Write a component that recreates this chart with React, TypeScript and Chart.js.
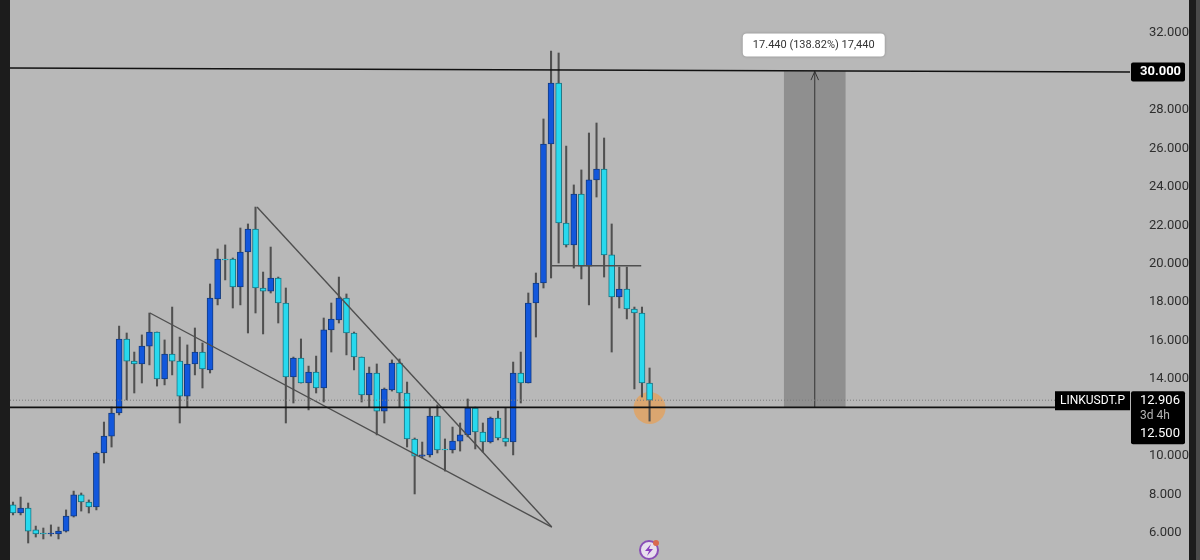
import React, { useEffect, useRef } from "react";
import { Chart, registerables } from "chart.js";

Chart.register(...registerables);

const candleIndex = Array.from({ length: 85 }, (_, i) => i);
const bodyTop = [7.46,7.30,7.30,6.16,6.00,6.00,6.10,6.88,7.98,7.98,7.61,10.16,11.04,12.24,16.09,16.09,14.94,15.72,16.45,16.45,15.31,15.31,14.94,14.79,15.41,15.41,18.22,20.25,20.25,20.25,20.61,21.81,21.81,18.74,19.26,19.26,17.96,15.10,15.10,14.37,14.37,16.56,17.13,18.22,18.22,16.40,15.15,14.32,14.32,13.49,14.84,14.84,13.28,10.89,10.06,12.08,12.08,10.37,10.78,11.10,12.50,12.50,11.25,11.98,11.98,10.94,14.32,14.32,17.96,19.00,26.23,29.40,29.40,22.12,23.63,23.63,24.36,24.93,24.93,20.46,18.69,18.69,17.65,17.44,13.80];
const bodyBottom = [7.04,7.04,6.10,5.95,5.95,5.95,5.95,6.10,6.88,7.61,7.35,7.35,10.16,11.04,12.24,14.94,14.79,14.79,15.72,14.01,14.01,14.94,13.12,13.12,14.79,14.53,14.48,18.17,20.20,18.79,18.79,20.61,18.74,18.58,18.58,17.96,14.11,14.11,13.80,13.80,13.54,13.54,16.56,17.08,16.40,15.15,13.18,13.18,12.34,12.34,13.44,13.28,10.89,10.00,10.00,10.06,10.32,10.32,10.32,10.78,11.10,11.25,10.73,10.73,10.94,10.73,10.73,13.80,13.80,17.96,19.00,26.23,22.12,20.98,20.98,19.88,19.88,24.36,20.46,18.27,18.27,17.65,17.44,13.80,12.906];
const wickHigh = [7.61,7.87,7.56,6.36,6.26,6.42,6.31,7.20,8.18,8.08,7.72,10.21,11.77,12.55,16.76,16.40,15.41,16.30,17.44,16.45,16.04,17.75,16.19,15.78,16.66,15.88,18.95,20.77,20.98,20.30,21.86,22.07,22.95,19.57,20.87,19.31,18.74,15.15,16.09,14.68,15.20,17.18,17.96,19.31,18.43,16.45,15.15,14.63,14.79,13.54,15.00,15.05,13.85,10.94,10.73,12.50,12.66,10.89,11.51,11.72,12.97,12.55,11.72,12.03,12.34,12.50,14.89,15.41,18.48,19.52,27.53,31.06,30.96,26.12,24.10,24.88,26.80,27.32,26.54,22.07,19.83,19.83,17.75,17.75,14.58];
const wickLow = [6.94,6.94,5.48,5.79,5.69,5.84,5.69,6.05,6.83,7.14,7.04,7.20,9.64,10.47,12.14,12.92,13.28,13.80,14.74,13.64,13.70,14.22,11.72,12.55,14.22,13.54,14.32,17.86,19.16,17.70,17.86,16.40,17.44,16.35,18.48,16.92,11.72,12.76,13.80,12.40,13.28,12.81,15.41,16.92,15.26,14.48,12.81,12.55,11.10,11.72,13.38,12.55,10.47,8.03,9.90,9.95,10.16,9.22,10.16,10.26,11.00,10.37,10.21,10.68,10.84,10.52,10.06,12.76,13.80,16.19,18.74,19.26,20.04,20.87,19.78,19.21,17.86,23.47,19.31,15.41,17.70,17.13,13.49,13.07,11.82];
const isBlue = [0,1,0,0,0,1,1,1,1,0,0,1,1,1,1,0,0,1,1,0,1,0,0,1,1,0,1,1,0,0,1,1,0,0,1,0,0,1,0,1,0,1,1,1,0,0,0,1,0,1,1,0,0,0,1,1,0,0,1,1,1,0,0,1,0,0,1,0,1,1,1,1,0,0,1,0,1,1,0,0,1,0,0,0,0];

const yTicks = [6, 8, 10, 14, 16, 18, 20, 22, 24, 26, 28, 32];
const topLineX = [-0.4, 147.4];
const topLineY = [30.18, 29.97];
const supportY = 12.53;
const lastPrice = 12.906;
const wedgeLowerX = [18.07, 71.1];
const wedgeLowerY = [17.44, 6.31];
const wedgeUpperX = [32.2, 71.1];
const wedgeUpperY = [22.95, 6.31];
const neckX = [71.1, 82.9];
const neckY = [19.9, 19.9];
const projectionX = 105.8;
const projectionRange = [12.53, 30.0];
const arrowHeadX = [105.3, 105.8, 106.3];
const arrowHeadY = [29.55, 30.0, 29.55];
const markerX = 84;
const markerY = 12.5;
const measureText = "17.440 (138.82%) 17,440";
const symbolText = "LINKUSDT.P";
const countdownText = "3d 4h";

const BLUE = "#1257dc";
const BLUE_EDGE = "#123b80";
const CYAN = "#27d9ee";
const CYAN_EDGE = "#1a7483";
const FONT = "Roboto, 'Liberation Sans', sans-serif";

function roundBox(ctx: CanvasRenderingContext2D, x: number, y: number, w: number, h: number, r: number, fill: string) {
  ctx.fillStyle = fill;
  ctx.beginPath();
  ctx.roundRect(x, y, w, h, r);
  ctx.fill();
}

const overlayPlugin = {
  id: "overlay",
  afterDraw(chart: any) {
    const { ctx } = chart;
    const y = chart.scales.y;
    const x = chart.scales.x;
    ctx.save();
    // dark side bands of the screen capture
    ctx.fillStyle = "#1c1c1c";
    ctx.fillRect(0, 0, 10, 560);
    ctx.fillRect(1189, 0, 7, 560);
    ctx.fillStyle = "#4a4a4a";
    ctx.fillRect(1196, 0, 4, 560);

    ctx.textBaseline = "middle";
    // measuring label
    const cx = x.getPixelForValue(projectionX) - 1;
    const ty = y.getPixelForValue(31.4);
    ctx.shadowColor = "rgba(0,0,0,0.25)";
    ctx.shadowBlur = 3;
    roundBox(ctx, cx - 71, ty - 11, 142, 23, 4, "#ffffff");
    ctx.shadowBlur = 0;
    ctx.fillStyle = "#333333";
    ctx.font = "11px " + FONT;
    ctx.textAlign = "center";
    ctx.fillText(measureText, cx, ty + 1);

    // price tags
    const p30 = y.getPixelForValue(30);
    roundBox(ctx, 1131, p30 - 9, 54, 19, 2, "#000000");
    ctx.fillStyle = "#ffffff";
    ctx.font = "bold 13px " + FONT;
    ctx.textAlign = "left";
    ctx.fillText("30.000", 1140, p30 + 0.5);

    const pl = y.getPixelForValue(lastPrice);
    roundBox(ctx, 1055, pl - 9, 75, 19, 0, "#000000");
    ctx.fillStyle = "#ffffff";
    ctx.font = "12px " + FONT;
    ctx.fillText(symbolText, 1060, pl + 0.5);
    roundBox(ctx, 1131, pl - 9, 54, 53, 2, "#000000");
    ctx.font = "13px " + FONT;
    ctx.fillStyle = "#ffffff";
    ctx.fillText(lastPrice.toFixed(3), 1140, pl + 0.5);
    ctx.fillStyle = "#b5b5b5";
    ctx.font = "12px " + FONT;
    ctx.fillText(countdownText, 1140, pl + 16);
    ctx.fillStyle = "#ffffff";
    ctx.font = "13px " + FONT;
    ctx.fillText("12.500", 1140, pl + 34);

    // bottom badge
    const ix = 649;
    const iy = 550;
    ctx.strokeStyle = "#8a4fb8";
    ctx.lineWidth = 2;
    ctx.fillStyle = "#e8e0ee";
    ctx.beginPath();
    ctx.arc(ix, iy, 9, 0, Math.PI * 2);
    ctx.fill();
    ctx.stroke();
    ctx.fillStyle = "#8a3fc0";
    ctx.beginPath();
    ctx.moveTo(ix + 2, iy - 6);
    ctx.lineTo(ix - 4, iy + 1);
    ctx.lineTo(ix, iy + 1);
    ctx.lineTo(ix - 2, iy + 6);
    ctx.lineTo(ix + 4, iy - 1);
    ctx.lineTo(ix, iy - 1);
    ctx.closePath();
    ctx.fill();
    ctx.fillStyle = "#d9694f";
    ctx.beginPath();
    ctx.arc(ix + 7, iy - 7, 3, 0, Math.PI * 2);
    ctx.fill();
    ctx.restore();
  },
};

const pts = (xs: number[], ys: number[]) => xs.map((v, i) => ({ x: v, y: ys[i] }));

export default function App() {
  const ref = useRef<HTMLCanvasElement>(null);
  useEffect(() => {
    document.body.style.margin = "0";
    document.body.style.background = "#b8b8b8";
    const line = (data: any[], color: string, width: number, extra: any = {}) => ({
      type: "line",
      data,
      borderColor: color,
      borderWidth: width,
      pointRadius: 0,
      fill: false,
      tension: 0,
      order: 1,
      ...extra,
    });
    const chart = new Chart(ref.current!, {
      data: {
        datasets: [
          {
            type: "bar",
            label: "projection",
            data: [{ x: projectionX, y: projectionRange }],
            backgroundColor: "#8f8f8f",
            barThickness: 61,
            order: 6,
          },
          {
            type: "bubble",
            label: "marker",
            data: [{ x: markerX, y: markerY, r: 16 }],
            backgroundColor: "rgba(232,160,84,0.72)",
            borderWidth: 0,
            order: 5,
          },
          {
            type: "bar",
            label: "wick",
            data: candleIndex.map((i) => ({ x: i, y: [wickLow[i], wickHigh[i]] })),
            backgroundColor: "#505050",
            barThickness: 1.4,
            grouped: false,
            order: 3,
          },
          {
            type: "bar",
            label: "body",
            data: candleIndex.map((i) => ({ x: i, y: [bodyBottom[i], bodyTop[i]] })),
            backgroundColor: candleIndex.map((i) => (isBlue[i] ? BLUE : CYAN)),
            borderColor: candleIndex.map((i) => (isBlue[i] ? BLUE_EDGE : CYAN_EDGE)),
            borderWidth: 1,
            borderSkipped: false,
            barThickness: 6,
            grouped: false,
            order: 2,
          },
          line(pts(topLineX, topLineY), "#111111", 1.6),
          line(pts(topLineX, [supportY, supportY]), "#111111", 1.8),
          line(pts(topLineX, [lastPrice, lastPrice]), "#7a7a7a", 1, { borderDash: [1, 2] }),
          line(pts(wedgeLowerX, wedgeLowerY), "#4f4f4f", 1.4),
          line(pts(wedgeUpperX, wedgeUpperY), "#4f4f4f", 1.4),
          line(pts(neckX, neckY), "#4f4f4f", 1.4),
          line(pts([projectionX, projectionX], projectionRange), "#333333", 1),
          line(pts(arrowHeadX, arrowHeadY), "#333333", 1),
        ] as any,
      },
      options: {
        animation: false,
        responsive: false,
        maintainAspectRatio: false,
        layout: { autoPadding: false, padding: { left: 10, right: 0, top: 0, bottom: 0 } },
        plugins: { legend: { display: false }, tooltip: { enabled: false } },
        scales: {
          x: {
            type: "linear",
            offset: false,
            min: -0.4,
            max: 147.4,
            display: false,
            grid: { display: false },
          },
          y: {
            position: "right",
            offset: false,
            min: 4.596,
            max: 33.716,
            grid: { display: false },
            border: { display: false },
            afterFit: (s: any) => {
              s.width = 70;
              s.paddingTop = 0;
              s.paddingBottom = 0;
            },
            afterBuildTicks: (s: any) => {
              s.ticks = yTicks.map((value) => ({ value }));
            },
            ticks: {
              color: "#2e2e2e",
              padding: 11,
              autoSkip: false,
              font: { size: 13, family: FONT },
              callback: (v: any) => Number(v).toFixed(3),
            },
          },
        },
      } as any,
      plugins: [overlayPlugin],
    });
    return () => chart.destroy();
  }, []);
  return <canvas ref={ref} width={1200} height={560} style={{ display: "block", background: "#b8b8b8" }} />;
}
